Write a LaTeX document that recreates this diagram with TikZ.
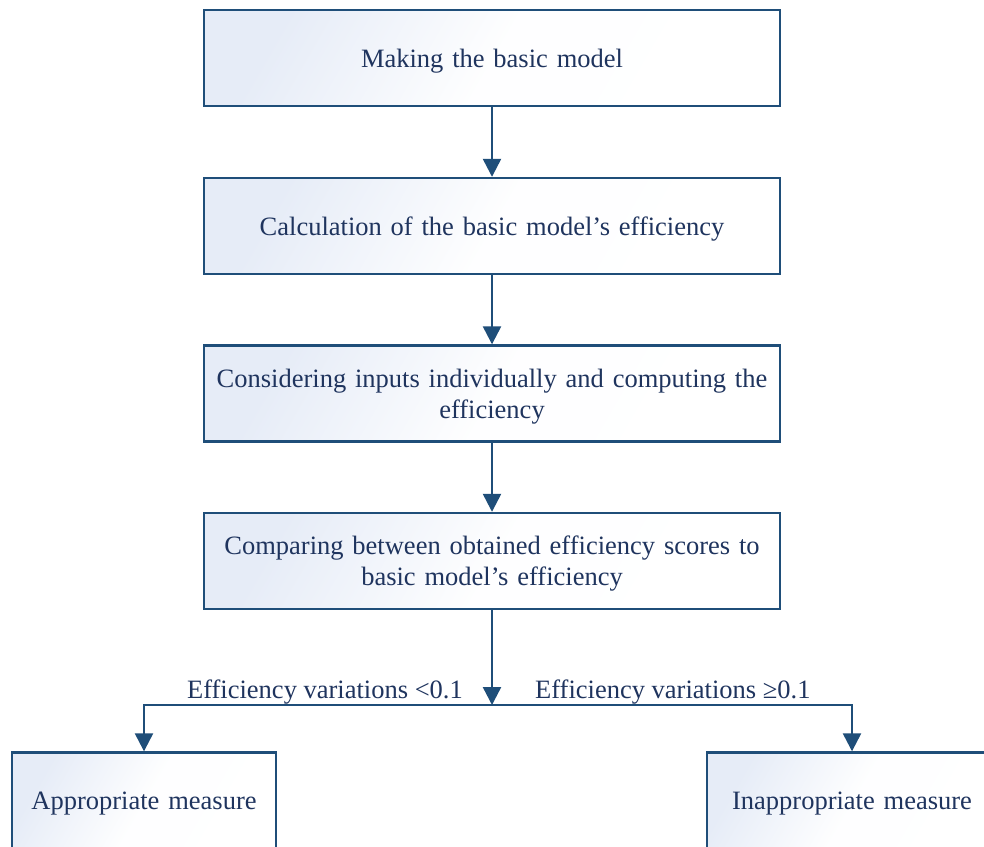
\documentclass[tikz,border=0pt]{standalone}
\usepackage{fontspec}
\setmainfont{Liberation Serif}
\usetikzlibrary{arrows.meta}
\definecolor{linec}{RGB}{31,78,121}
\definecolor{textc}{RGB}{31,52,94}
\definecolor{fillc}{RGB}{230,236,247}
\tikzset{
  box/.style={draw=linec, line width=2.4pt, left color=fillc, right color=white,
    middle color=white!94!fillc, shading angle=60,
    align=center, text=textc, inner sep=0pt, font=\fontsize{26.5}{31}\selectfont,
    execute at begin node={\rule{0pt}{25pt}},
    execute at end node={\rule[-7pt]{0pt}{7pt}}},
  mainbox/.style={box, minimum width=576pt, minimum height=96pt, text width=560pt},
  sidebox/.style={box, minimum height=96pt, text width=250pt},
  arr/.style={draw=linec, line width=2.4pt, -{Triangle[width=18pt,length=18pt]}},
  lab/.style={text=textc, inner sep=0pt, font=\fontsize{26.5}{31}\selectfont}
}
\begin{document}
\begin{tikzpicture}[x=1pt,y=1pt]
\clip (0,0) rectangle (984,-846);
\fill[white] (0,0) rectangle (984,-846);
\node[mainbox] (b1) at (492,-58) {Making the basic model};
\node[mainbox] (b2) at (492,-226) {Calculation of the basic model’s efficiency};
\node[mainbox] (b3) at (492,-393.5) {Considering inputs individually and computing the\\efficiency};
\node[mainbox] (b4) at (492,-561) {Comparing between obtained efficiency scores to\\basic model’s efficiency};
\node[sidebox, minimum width=264pt] (bl) at (144,-800.5) {Appropriate measure};
\node[sidebox, minimum width=290pt] (br) at (852,-800.5) {Inappropriate measure};
\coordinate (j) at (492,-705);
\draw[arr] (b1) -- (b2);
\draw[arr] (b2) -- (b3);
\draw[arr] (b3) -- (b4);
\draw[arr] (b4) -- (j);
\draw[arr] (j) -| (bl);
\draw[arr] (j) -| (br);
\node[lab, anchor=base east] (l1) at (463,-698) {Efficiency variations <0.1};
\node[lab, anchor=base west] (l2) at (535,-698) {Efficiency variations ≥0.1};
\end{tikzpicture}
\end{document}
